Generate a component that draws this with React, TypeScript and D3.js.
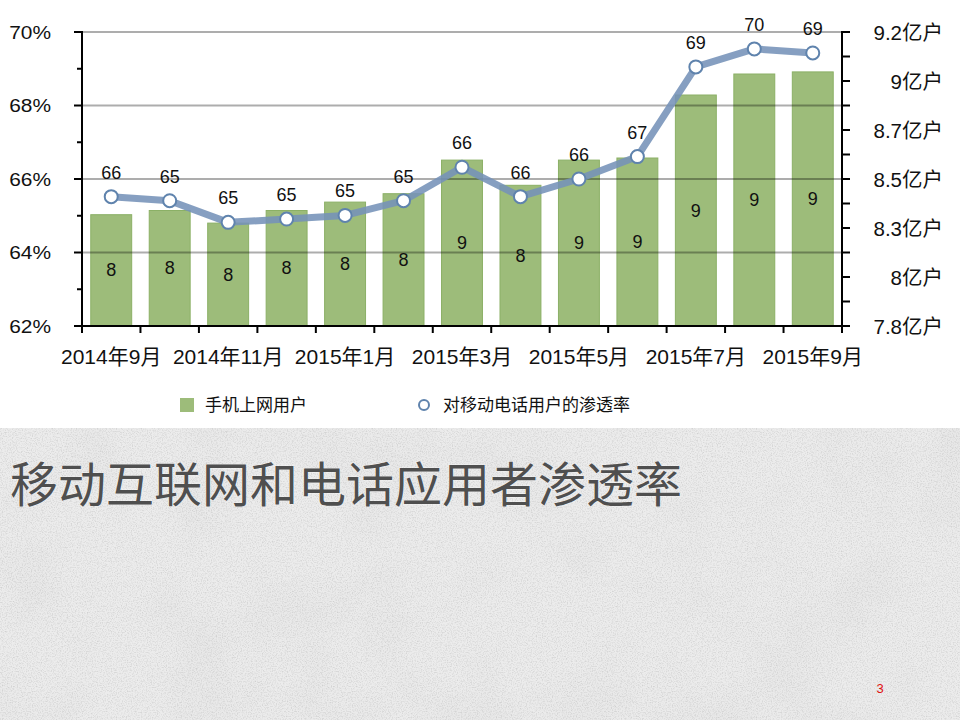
import React from "react";
import * as d3 from "d3";

const months = [
  "2014年9月", "2014年10月", "2014年11月", "2014年12月", "2015年1月", "2015年2月",
  "2015年3月", "2015年4月", "2015年5月", "2015年6月", "2015年7月", "2015年8月", "2015年9月",
];
const mobileUsers = [8.33, 8.35, 8.29, 8.35, 8.39, 8.43, 8.59, 8.47, 8.59, 8.6, 8.9, 9.0, 9.01];
const penetration = [65.52, 65.41, 64.82, 64.91, 65.01, 65.41, 66.32, 65.52, 66.0, 66.61, 69.05, 69.54, 69.43];
const leftTicks = [62, 64, 66, 68, 70];
const leftMinor = [63, 65, 67, 69];
const rightTickLabels = ["7.8亿户", "8亿户", "8.3亿户", "8.5亿户", "8.7亿户", "9亿户", "9.2亿户"];
const seriesNames = ["手机上网用户", "对移动电话用户的渗透率"];
const title = "移动互联网和电话应用者渗透率";
const pageNumber = "3";

const FONT = "'Liberation Sans', 'Noto Sans CJK SC', sans-serif";
const BAR = "#9dbc7a";
const BAR_STROKE = "#8bb066";
const LINE = "#7592b8";
const MARK = "#5f83ad";

export default function App() {
  const left = 82, right = 842, top = 32, bottom = 326;
  const x = d3.scaleBand<string>().domain(months).range([left, right]).paddingInner(0.3).paddingOuter(0.15);
  const yL = d3.scaleLinear().domain([62, 70]).range([bottom, top]);
  const yR = d3.scaleLinear().domain([7.8, 9.2]).range([bottom, top]);
  const step = x.step();
  const rightTickVals = d3.range(13).map((i) => 7.8 + (i * 1.4) / 12);
  const cx = (i: number) => (x(months[i]) as number) + x.bandwidth() / 2;
  const line = d3
    .line<number>()
    .x((_, i) => cx(i))
    .y((d) => yL(d));

  return (
    <svg
      width={960}
      height={720}
      style={{ position: "absolute", left: 0, top: 0, display: "block" }}
      fontFamily={FONT}
    >
      <defs>
        <filter id="grain" x="0" y="0" width="100%" height="100%">
          <feTurbulence type="fractalNoise" baseFrequency="0.8" numOctaves={2} seed={3} result="n" />
          <feColorMatrix
            in="n"
            type="matrix"
            values="0 0 0 0 0.3  0 0 0 0 0.3  0 0 0 0 0.3  0 0 0 -2.2 1.25"
          />
        </filter>
        <filter id="blot" x="0" y="0" width="100%" height="100%">
          <feTurbulence type="fractalNoise" baseFrequency="0.012" numOctaves={3} seed={7} result="n" />
          <feColorMatrix
            in="n"
            type="matrix"
            values="0 0 0 0 0.4  0 0 0 0 0.4  0 0 0 0 0.4  0 0 0 -0.9 0.5"
          />
        </filter>
      </defs>
      <rect x={0} y={0} width={960} height={720} fill="#ffffff" />
      {/* textured lower band */}
      <rect x={0} y={428} width={960} height={292} fill="#ececec" />
      <rect x={0} y={428} width={960} height={292} filter="url(#blot)" opacity={0.18} />
      <rect x={0} y={428} width={960} height={292} filter="url(#grain)" opacity={0.3} />

      {/* bars */}
      {mobileUsers.map((v, i) => (
        <rect
          key={"b" + i}
          x={x(months[i])}
          y={yR(v)}
          width={x.bandwidth()}
          height={bottom - yR(v)}
          fill={BAR}
          stroke={BAR_STROKE}
          strokeWidth={1}
        />
      ))}

      {/* gridlines */}
      {leftTicks.slice(1).map((t) => (
        <line key={"g" + t} x1={left} x2={right} y1={yL(t)} y2={yL(t)} stroke="#000" strokeOpacity={0.32} strokeWidth={2} />
      ))}

      {/* bar labels */}
      {mobileUsers.map((v, i) => (
        <text
          key={"bl" + i}
          x={cx(i)}
          y={(yR(v) + bottom) / 2}
          textAnchor="middle"
          dominantBaseline="central"
          fontSize={18}
          fill="#111"
        >
          {Math.round(v)}
        </text>
      ))}

      {/* line */}
      <path d={line(penetration) || ""} fill="none" stroke={LINE} strokeOpacity={0.88} strokeWidth={7} strokeLinejoin="round" />
      {penetration.map((v, i) => (
        <circle key={"c" + i} cx={cx(i)} cy={yL(v)} r={6.5} fill="#fff" stroke={MARK} strokeWidth={2} />
      ))}
      {penetration.map((v, i) => (
        <text
          key={"pl" + i}
          x={cx(i)}
          y={yL(v) - 24}
          textAnchor="middle"
          dominantBaseline="central"
          fontSize={18}
          fill="#111"
        >
          {Math.round(v)}
        </text>
      ))}

      {/* left axis */}
      <line x1={left} x2={left} y1={top - 1} y2={bottom} stroke="#000" strokeWidth={2} />
      {leftTicks.map((t) => (
        <g key={"lt" + t}>
          <line x1={left - 8} x2={left} y1={yL(t)} y2={yL(t)} stroke="#000" strokeWidth={2} />
          <text
            transform={`translate(51,${yL(t)}) scale(1.1,1)`}
            textAnchor="end"
            dominantBaseline="central"
            fontSize={19}
            fill="#111"
          >
            {t}%
          </text>
        </g>
      ))}
      {leftMinor.map((t) => (
        <line key={"lm" + t} x1={left - 5} x2={left} y1={yL(t)} y2={yL(t)} stroke="#000" strokeWidth={2} />
      ))}

      {/* right axis */}
      <line x1={right} x2={right} y1={top - 1} y2={bottom + 1} stroke="#000" strokeWidth={2} />
      {rightTickVals.map((t, i) => (
        <line key={"rt" + i} x1={right} x2={right + 8} y1={yR(t)} y2={yR(t)} stroke="#000" strokeWidth={2} />
      ))}
      {rightTickLabels.map((lab, i) => (
        <text
          key={"rl" + i}
          x={943}
          y={yR(rightTickVals[i * 2])}
          textAnchor="end"
          dominantBaseline="central"
          fontSize={20.5}
          fill="#111"
        >
          {lab}
        </text>
      ))}

      {/* bottom axis */}
      <line x1={left - 1} x2={right + 1} y1={bottom} y2={bottom} stroke="#000" strokeWidth={2} />
      {d3.range(months.length + 1).map((i) => (
        <line key={"bt" + i} x1={left + i * step} x2={left + i * step} y1={bottom} y2={bottom + 7} stroke="#000" strokeWidth={2} />
      ))}
      {months.map((m, i) =>
        i % 2 === 0 ? (
          <text
            key={"xl" + i}
            x={cx(i)}
            y={356}
            textAnchor="middle"
            dominantBaseline="central"
            fontSize={21}
            fill="#111"
          >
            {m}
          </text>
        ) : null
      )}

      {/* legend */}
      <rect x={180} y={398} width={14} height={14} fill={BAR} />
      <text x={205} y={405} dominantBaseline="central" fontSize={17} fill="#111">
        {seriesNames[0]}
      </text>
      <circle cx={424} cy={405} r={5} fill="#fff" stroke={MARK} strokeWidth={2} />
      <text x={443} y={405} dominantBaseline="central" fontSize={17} fill="#111">
        {seriesNames[1]}
      </text>

      {/* title */}
      <text
        x={10}
        y={481}
        dominantBaseline="central"
        fontSize={48}
        fontFamily="'Noto Sans CJK SC', sans-serif"
        fill="#4f4f4f"
        stroke="#ffffff"
        strokeOpacity={0.5}
        strokeWidth={1}
        paintOrder="stroke"
      >
        {title}
      </text>

      <text x={880} y={688} textAnchor="middle" dominantBaseline="central" fontSize={13} fill="#e01010">
        {pageNumber}
      </text>
    </svg>
  );
}
